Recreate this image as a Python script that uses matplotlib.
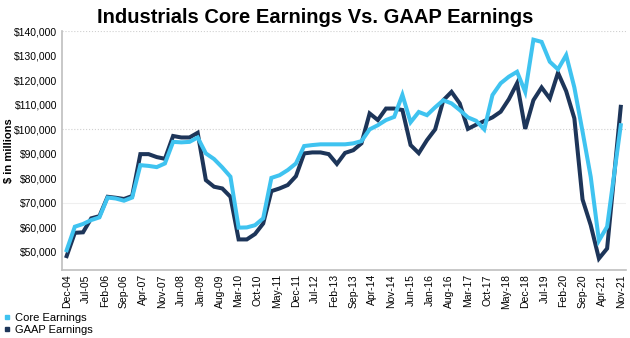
import matplotlib
matplotlib.use("Agg")
import matplotlib.pyplot as plt
from matplotlib.lines import Line2D
from matplotlib.ticker import FuncFormatter
import pandas as pd

plt.rcParams["font.family"] = ["Liberation Sans", "DejaVu Sans"]

# sector totals, $ millions (quarterly TTM, last point is the latest filing)
DATES = [
    "2004-12", "2005-03", "2005-06", "2005-09", "2005-12", "2006-03", "2006-06", "2006-09",
    "2006-12", "2007-03", "2007-06", "2007-09", "2007-12", "2008-03", "2008-06", "2008-09",
    "2008-12", "2009-03", "2009-06", "2009-09", "2009-12", "2010-03", "2010-06", "2010-09",
    "2010-12", "2011-03", "2011-06", "2011-09", "2011-12", "2012-03", "2012-06", "2012-09",
    "2012-12", "2013-03", "2013-06", "2013-09", "2013-12", "2014-03", "2014-06", "2014-09",
    "2014-12", "2015-03", "2015-06", "2015-09", "2015-12", "2016-03", "2016-06", "2016-09",
    "2016-12", "2017-03", "2017-06", "2017-09", "2017-12", "2018-03", "2018-06", "2018-09",
    "2018-12", "2019-03", "2019-06", "2019-09", "2019-12", "2020-03", "2020-06", "2020-09",
    "2020-12", "2021-03", "2021-06", "2021-11",
]
CORE = [
    50600, 60200, 61300, 62900, 64000, 72100, 71700, 70800,
    72100, 85300, 85000, 84500, 86000, 94800, 94600, 94800,
    96600, 90100, 87800, 84400, 80600, 59800, 59900, 60800,
    63600, 80100, 81200, 83300, 86000, 93100, 93500, 93800,
    93800, 93800, 93800, 94200, 95100, 99900, 101600, 103700,
    105000, 114000, 102800, 107000, 105700, 108900, 111800, 110500,
    107800, 104800, 103400, 99900, 113900, 118700, 121400, 123400,
    115200, 136500, 135600, 127500, 124400, 130200, 117000, 99000,
    80500, 54500, 60200, 101600,
]
GAAP = [
    48200, 57700, 57900, 63600, 64500, 72400, 72000, 71500,
    72700, 89800, 89800, 88600, 87900, 97200, 96600, 96600,
    98500, 79200, 76500, 75800, 72400, 55000, 55000, 57200,
    61500, 74700, 75800, 77200, 80800, 90100, 90500, 90500,
    89800, 85800, 90300, 91400, 94200, 106400, 103700, 108400,
    108400, 107800, 93500, 90200, 95500, 99900, 111800, 115200,
    110500, 100100, 101800, 103300, 104800, 107100, 112200, 118700,
    100100, 111800, 117000, 112500, 123000, 115500, 104400, 71300,
    60800, 47200, 51300, 109100,
]
Y_TICKS = [50000, 60000, 70000, 80000, 90000, 100000, 110000, 120000, 130000, 140000]

CORE_COLOR = "#3fc3f0"
GAAP_COLOR = "#1d3559"

# month axis: every month gets equal width, counted from the first date
periods = pd.PeriodIndex(DATES, freq="M")
start = periods[0]
x = [(p - start).n for p in periods]
span = x[-1]

fig = plt.figure(figsize=(6.30, 3.38), dpi=100)
ax = fig.add_axes([0.098, 0.201, 0.896, 0.707])

# faint horizontal guides
for yv, ls, c in [(140000, ":", "#d0d0d0"), (100000, ":", "#d0d0d0"), (70000, "-", "#efefef")]:
    ax.axhline(yv, ls=ls, lw=0.8, color=c, zorder=0)

ax.plot(x, GAAP, color=GAAP_COLOR, lw=2.9, solid_joinstyle="miter", zorder=3)
ax.plot(x, CORE, color=CORE_COLOR, lw=2.9, solid_joinstyle="miter", zorder=4)

ax.set_xlim(-1.8, span + 2)
ax.set_ylim(42500, 140000)

ticks = list(range(0, span + 1, 7))
ax.set_xticks(ticks)
ax.set_xticklabels([(start + t).strftime("%b-%y") for t in ticks],
                   rotation=90, fontsize=7.5)
ax.set_yticks(Y_TICKS)
ax.yaxis.set_major_formatter(FuncFormatter(lambda v, _: f"${v:,.0f}"))
ax.tick_params(axis="y", labelsize=7.5, length=0, pad=3)
ax.tick_params(axis="x", length=0, pad=3)

for side in ("top", "right"):
    ax.spines[side].set_visible(False)
for side in ("left", "bottom"):
    ax.spines[side].set_color("#bfbfbf")
    ax.spines[side].set_linewidth(1.2)

fig.text(0.5, 0.948, "Industrials Core Earnings Vs. GAAP Earnings",
         ha="center", va="center", fontsize=14.5, fontweight="bold")
fig.text(0.015, 0.555, "$ in millions", rotation=90, ha="center", va="center",
         fontsize=8, fontweight="bold")

handles = [Line2D([], [], ls="", marker="s", ms=3.5, color=CORE_COLOR),
           Line2D([], [], ls="", marker="s", ms=3.5, color=GAAP_COLOR)]
fig.legend(handles, ["Core Earnings", "GAAP Earnings"], loc="lower left",
           bbox_to_anchor=(-0.005, -0.01), frameon=False, fontsize=8,
           handlelength=0.6, handletextpad=0.4, labelspacing=0.15,
           borderaxespad=0.2)

fig.savefig("out.png", dpi=100)
